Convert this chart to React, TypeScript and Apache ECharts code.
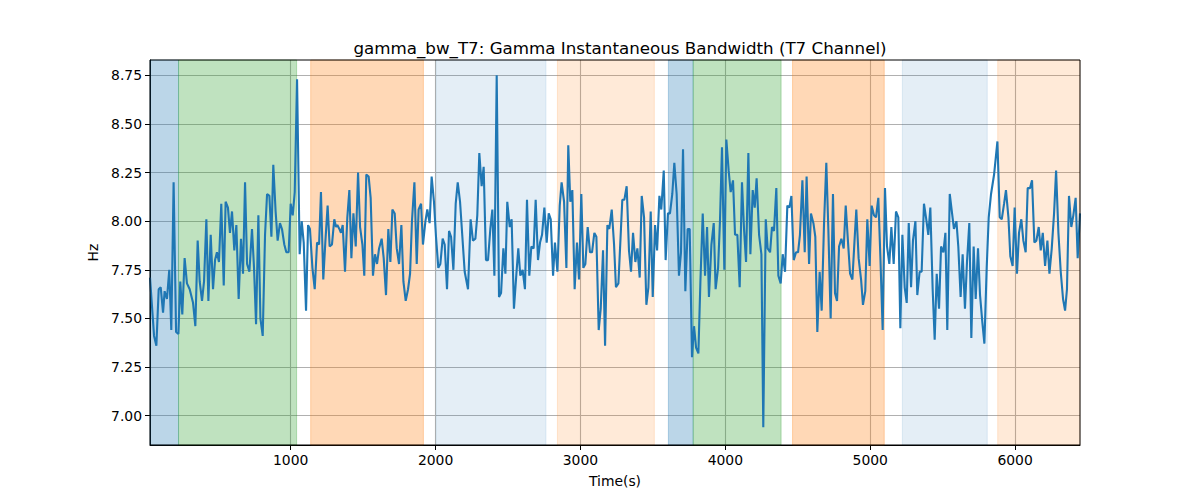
import React, { useEffect, useRef } from "react";
import * as echarts from "echarts";

const TITLE = "gamma_bw_T7: Gamma Instantaneous Bandwidth (T7 Channel)";
const X_LABEL = "Time(s)";
const Y_LABEL = "Hz";
const X_MIN = 29;
const X_MAX = 6448;
const Y_MIN = 6.849;
const Y_MAX = 8.829;
const X_TICKS = [1000, 2000, 3000, 4000, 5000, 6000];
const Y_TICKS = [7.0, 7.25, 7.5, 7.75, 8.0, 8.25, 8.5, 8.75];

// Sample times (s) and instantaneous bandwidth (Hz), in six chunks
const t1 = [29, 57, 73, 89, 103, 119, 130, 146, 162, 176, 192, 209, 225, 238, 252, 268, 284, 303, 326, 342, 358, 372, 388, 402, 418, 432, 448, 464, 478, 491, 505, 521, 538, 551, 567, 581, 595, 611, 625, 641, 657, 671, 685, 699, 715, 733, 747, 761, 777, 791, 807, 823, 837, 853, 867, 880, 896, 910, 926, 940, 956, 970, 986, 1000, 1014, 1028, 1044, 1062, 1076, 1090, 1106, 1120];
const v1 = [7.71, 7.41, 7.36, 7.65, 7.66, 7.53, 7.64, 7.60, 7.75, 7.44, 8.20, 7.43, 7.42, 7.69, 7.52, 7.81, 7.68, 7.65, 7.58, 7.46, 7.90, 7.69, 7.59, 7.69, 8.01, 7.59, 7.93, 7.65, 7.80, 7.84, 7.79, 8.09, 7.67, 8.10, 8.07, 7.94, 8.05, 7.85, 7.98, 7.60, 7.91, 7.73, 8.20, 7.78, 7.74, 7.96, 7.76, 7.47, 8.03, 7.50, 7.41, 7.93, 8.14, 8.13, 7.92, 8.29, 8.05, 7.90, 7.99, 7.96, 7.88, 7.84, 7.84, 8.09, 8.03, 8.15, 8.73, 7.83, 8.00, 7.89, 7.54, 7.98];

const t2 = [1133, 1150, 1166, 1182, 1196, 1209, 1225, 1239, 1255, 1269, 1285, 1301, 1313, 1322, 1336, 1347, 1359, 1375, 1391, 1405, 1419, 1433, 1449, 1465, 1479, 1495, 1508, 1522, 1538, 1552, 1568, 1582, 1596, 1610, 1628, 1642, 1658, 1674, 1688, 1702, 1718, 1732, 1748, 1764, 1778, 1794, 1810, 1824, 1837, 1854, 1870, 1883, 1900, 1913, 1930, 1943, 1959, 1973, 1989, 2003, 2019, 2033, 2049, 2063, 2079, 2093, 2107, 2123, 2139, 2153, 2169];
const v2 = [7.96, 7.76, 7.65, 7.89, 7.88, 8.15, 7.70, 7.89, 8.08, 7.87, 7.88, 8.01, 7.97, 7.98, 7.96, 7.94, 7.98, 7.74, 8.02, 8.16, 7.81, 8.04, 7.87, 8.25, 7.97, 7.88, 7.72, 8.24, 8.23, 8.12, 7.72, 7.83, 7.78, 7.86, 7.91, 7.81, 7.62, 7.96, 7.79, 8.06, 8.04, 7.86, 7.78, 7.98, 7.69, 7.59, 7.65, 7.73, 8.00, 8.20, 7.78, 8.06, 8.09, 7.88, 8.00, 8.06, 7.99, 8.23, 8.10, 7.92, 7.76, 7.78, 7.91, 7.88, 7.65, 7.95, 7.92, 7.75, 8.09, 8.20, 8.10];

const t3 = [2201, 2224, 2242, 2258, 2275, 2288, 2302, 2318, 2332, 2348, 2362, 2378, 2392, 2406, 2422, 2438, 2452, 2468, 2482, 2495, 2512, 2525, 2541, 2558, 2571, 2585, 2601, 2617, 2631, 2647, 2661, 2677, 2691, 2707, 2721, 2735, 2751, 2767, 2781, 2795, 2811, 2824, 2841, 2857, 2870, 2887, 2903, 2916, 2930, 2944, 2960, 2976, 2990, 3006, 3020, 3034, 3050, 3066, 3080, 3096, 3110, 3126, 3140, 3156, 3170, 3186, 3199, 3216, 3232, 3245, 3262];
const v3 = [7.74, 7.65, 8.01, 7.90, 7.91, 8.03, 8.35, 8.18, 8.28, 7.80, 7.80, 7.96, 8.06, 7.72, 8.75, 7.61, 7.63, 7.86, 7.73, 8.10, 7.97, 8.01, 7.55, 7.73, 7.86, 7.72, 7.75, 7.65, 8.11, 7.72, 7.87, 7.86, 8.11, 7.80, 7.89, 7.93, 8.07, 7.89, 8.04, 8.01, 7.72, 7.89, 7.74, 8.08, 8.20, 8.10, 7.76, 8.39, 8.10, 8.16, 7.65, 7.89, 7.70, 8.14, 7.76, 7.78, 7.97, 7.84, 7.84, 7.94, 7.92, 7.44, 7.55, 7.85, 7.36, 7.98, 7.96, 8.06, 7.88, 7.66, 7.68];

const t4 = [3289, 3303, 3319, 3335, 3349, 3363, 3379, 3393, 3409, 3423, 3439, 3455, 3469, 3485, 3499, 3515, 3529, 3545, 3558, 3575, 3588, 3604, 3618, 3634, 3648, 3664, 3680, 3694, 3708, 3724, 3740, 3754, 3770, 3784, 3798, 3814, 3828, 3844, 3860, 3874, 3887, 3904, 3920, 3933, 3950, 3963, 3977, 3993, 4007, 4023, 4037, 4053, 4067, 4083, 4099, 4115, 4129, 4143, 4159, 4173, 4189, 4203, 4216, 4233, 4249, 4262, 4279, 4292, 4309, 4322, 4336, 4352, 4366];
const v4 = [8.11, 8.11, 8.18, 7.85, 7.74, 7.94, 7.79, 7.86, 7.71, 8.13, 8.02, 7.57, 7.66, 8.05, 7.61, 7.98, 7.85, 8.13, 8.06, 8.26, 7.80, 8.04, 8.04, 8.14, 8.30, 8.14, 7.72, 7.84, 8.37, 7.64, 7.96, 7.96, 7.30, 7.46, 7.35, 7.32, 7.69, 8.04, 7.72, 7.97, 7.61, 7.88, 7.99, 7.65, 7.76, 8.00, 8.38, 7.75, 8.42, 8.26, 8.15, 8.21, 7.93, 7.93, 7.66, 8.20, 7.96, 7.79, 8.35, 7.83, 8.16, 8.07, 8.22, 7.93, 7.83, 6.94, 8.01, 7.86, 7.84, 7.97, 7.95, 8.17, 7.72];

const t5 = [4382, 4396, 4412, 4428, 4442, 4456, 4472, 4488, 4502, 4515, 4532, 4548, 4561, 4578, 4591, 4608, 4621, 4635, 4651, 4665, 4681, 4697, 4711, 4727, 4743, 4757, 4771, 4785, 4801, 4817, 4831, 4847, 4861, 4877, 4891, 4904, 4920, 4937, 4950, 4966, 4980, 4996, 5010, 5026, 5040, 5056, 5070, 5086, 5102, 5116, 5132, 5146, 5162, 5178, 5194, 5208, 5222, 5238, 5252, 5266, 5282, 5295, 5312, 5325, 5341, 5355, 5371, 5385, 5401, 5415, 5431, 5445];
const v5 = [7.68, 7.83, 7.74, 8.08, 8.07, 8.13, 7.80, 7.84, 7.84, 7.93, 8.21, 7.84, 8.23, 7.78, 8.04, 7.99, 7.92, 7.43, 7.74, 7.54, 7.98, 8.30, 7.96, 7.50, 8.14, 7.63, 7.59, 7.87, 7.91, 7.86, 8.08, 7.89, 7.73, 7.70, 7.89, 8.06, 7.81, 7.70, 7.57, 7.64, 8.01, 7.77, 8.08, 8.03, 8.02, 8.12, 7.82, 7.44, 8.17, 7.87, 7.78, 7.97, 7.78, 8.05, 8.02, 7.45, 7.93, 7.66, 7.58, 7.99, 7.66, 7.90, 8.00, 7.62, 7.74, 7.74, 8.09, 8.02, 7.93, 8.07, 7.65, 7.39];

const t6 = [5459, 5475, 5489, 5505, 5519, 5532, 5549, 5565, 5578, 5595, 5608, 5624, 5638, 5654, 5668, 5684, 5698, 5714, 5728, 5744, 5758, 5774, 5788, 5804, 5818, 5834, 5855, 5878, 5894, 5908, 5924, 5937, 5954, 5967, 5983, 5997, 6013, 6027, 6043, 6057, 6073, 6087, 6103, 6117, 6133, 6147, 6163, 6177, 6191, 6207, 6223, 6237, 6253, 6269, 6283, 6299, 6315, 6331, 6345, 6358, 6372, 6388, 6402, 6418, 6432, 6448];
const v6 = [7.73, 7.55, 7.87, 7.84, 7.94, 7.44, 8.14, 8.04, 7.96, 8.00, 7.87, 7.61, 7.83, 7.55, 7.79, 7.99, 7.40, 7.87, 7.60, 7.86, 7.62, 7.48, 7.37, 7.76, 8.02, 8.14, 8.24, 8.41, 8.02, 8.01, 8.09, 8.16, 8.02, 7.82, 7.77, 8.07, 7.73, 7.94, 8.01, 7.90, 7.84, 8.17, 8.17, 8.21, 7.89, 7.90, 7.97, 7.85, 7.94, 7.77, 7.90, 7.73, 7.86, 8.04, 8.26, 7.94, 7.74, 7.60, 7.54, 7.65, 8.13, 7.97, 8.03, 8.12, 7.81, 8.04];

// Shaded stage intervals
const SPAN_START = [29, 226, 1138, 2004, 2841, 3607, 3778, 4464, 5222, 5880];
const SPAN_END = [226, 1041, 1916, 2762, 3510, 3778, 4385, 5097, 5808, 6448];
const SPAN_KIND = ["blue", "green", "orange", "lightblue", "lightorange", "blue", "green", "orange", "lightblue", "lightorange"];

const KIND_COLOR: Record<string, string> = {
  blue: "rgba(31,119,180,0.3)",
  green: "rgba(44,160,44,0.3)",
  orange: "rgba(255,127,14,0.3)",
  lightblue: "rgba(31,119,180,0.12)",
  lightorange: "rgba(255,127,14,0.16)",
};

const FONT = "DejaVu Sans";

export default function App() {
  const ref = useRef<HTMLDivElement>(null);

  useEffect(() => {
    document.body.style.margin = "0";
    if (!ref.current) return;
    const chart = echarts.init(ref.current, null, { renderer: "svg" });

    const times = [...t1, ...t2, ...t3, ...t4, ...t5, ...t6];
    const vals = [...v1, ...v2, ...v3, ...v4, ...v5, ...v6];
    const lineData = times.map((t, i) => [t, vals[i]]);

    const areas = SPAN_START.map((s, i) => {
      const c = KIND_COLOR[SPAN_KIND[i]];
      return [
        { xAxis: s, itemStyle: { color: c, borderColor: c, borderWidth: 1 } },
        { xAxis: SPAN_END[i] },
      ];
    });

    chart.setOption({
      animation: false,
      title: {
        text: TITLE,
        left: 615,
        top: 34,
        textAlign: "center",
        textStyle: { fontFamily: FONT, fontSize: 16.7, fontWeight: "normal", color: "#000" },
      },
      grid: {
        left: 150,
        right: 120,
        top: 60,
        bottom: 55,
        show: true,
        borderColor: "#000",
        borderWidth: 1,
        backgroundColor: "transparent",
        z: 5,
      },
      xAxis: {
        type: "value",
        min: X_MIN,
        max: X_MAX,
        name: X_LABEL,
        nameLocation: "middle",
        nameGap: 29,
        nameTextStyle: { fontFamily: FONT, fontSize: 13.9, color: "#000" },
        axisLine: { show: true, onZero: false, lineStyle: { color: "#000", width: 1 } },
        axisTick: { show: true, length: 5, lineStyle: { color: "#000" }, customValues: X_TICKS },
        axisLabel: {
          customValues: X_TICKS,
          fontFamily: FONT,
          fontSize: 13.9,
          color: "#000",
          margin: 8,
          formatter: (v: number) => String(v),
        },
        splitLine: { show: true, lineStyle: { color: "#b0b0b0", width: 1.1 } },
      },
      yAxis: {
        type: "value",
        min: Y_MIN,
        max: Y_MAX,
        name: Y_LABEL,
        nameLocation: "middle",
        nameGap: 44,
        nameRotate: 90,
        nameTextStyle: { fontFamily: FONT, fontSize: 13.9, color: "#000" },
        axisLine: { show: true, onZero: false, lineStyle: { color: "#000", width: 1 } },
        axisTick: { show: true, length: 5, lineStyle: { color: "#000" }, customValues: Y_TICKS },
        axisLabel: {
          customValues: Y_TICKS,
          fontFamily: FONT,
          fontSize: 13.9,
          color: "#000",
          margin: 8,
          formatter: (v: number) => v.toFixed(2),
        },
        splitLine: { show: true, lineStyle: { color: "#b0b0b0", width: 1.1 } },
      },
      series: [
        {
          type: "line",
          name: "spans",
          data: lineData,
          showSymbol: false,
          symbol: "none",
          silent: true,
          lineStyle: { opacity: 0, width: 0 },
          z: -1,
          markArea: {
            silent: true,
            data: areas,
          },
        },
        {
          type: "line",
          name: "gamma_bw",
          data: lineData,
          showSymbol: false,
          symbol: "none",
          lineStyle: { color: "#1f77b4", width: 2.1 },
          itemStyle: { color: "#1f77b4" },
          z: 3,
        },
      ],
    });

    return () => chart.dispose();
  }, []);

  return <div ref={ref} style={{ width: 1200, height: 500 }} />;
}
